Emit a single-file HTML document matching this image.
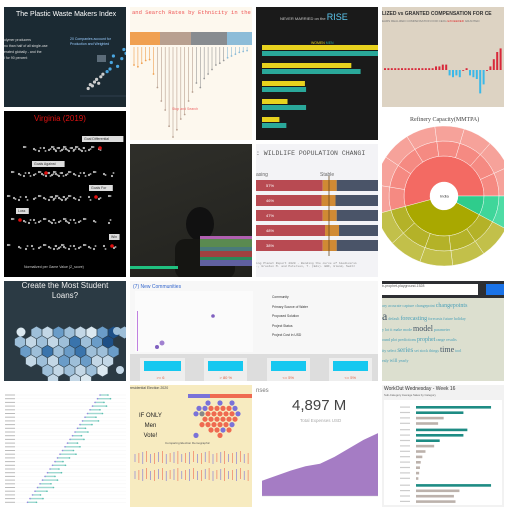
<!DOCTYPE html>
<html><head><meta charset="utf-8"><style>
body{margin:0;width:513px;height:511px;background:#fff;position:relative;overflow:hidden;font-family:"Liberation Sans",sans-serif}
.t{position:absolute;overflow:hidden}
.a{position:absolute}
</style></head><body>
<div class="t" style="left:4px;top:7px;width:122px;height:100px;background:#1b2a33">
 <div class="a" style="left:12px;top:4px;color:#fff;font-size:7px;white-space:nowrap">The Plastic Waste Makers Index</div>
 <div class="a" style="left:0;top:30px;width:56px;color:#ddd;font-size:3.5px;line-height:6px">olymer producers<br>no than half of all single-use<br>erated globally - and the<br>l for 90 percent</div>
 <div class="a" style="left:66px;top:30px;color:#9cf;font-size:3.5px;line-height:5px">20 Companies account for<br>Production and Weighted</div>
 <svg class="a" style="left:0;top:0" width="122" height="100" id="s1"></svg>
</div>
<div class="t" style="left:130px;top:7px;width:122px;height:133px;background:#fdf8ee">
 <div class="a" style="left:2px;top:2px;color:#e55;font-size:5.5px;font-family:'Liberation Mono',monospace;white-space:nowrap">and Search Rates by Ethnicity in the</div>
 <svg class="a" style="left:0;top:0" width="122" height="133" id="s2"></svg>
</div>
<div class="t" style="left:256px;top:7px;width:122px;height:133px;background:#1a1a1a">
 <div class="a" style="left:24px;top:5px;color:#ccc;font-size:4px;white-space:nowrap">NEVER MARRIED on the <span style="color:#5cc8f0;font-size:9px">RISE</span></div>
 <div class="a" style="left:55px;top:34px;font-size:3.5px;color:#e5d21e">WOMEN <span style="color:#2aa89a">MEN</span></div>
 <svg class="a" style="left:0;top:0" width="122" height="133" id="s3"></svg>
</div>
<div class="t" style="left:382px;top:7px;width:122px;height:100px;background:#ddd3c3">
 <div class="a" style="left:0;top:4px;font-size:5px;font-weight:bold;color:#333;white-space:nowrap">LIZED vs GRANTED COMPENSATION FOR CE</div>
 <div class="a" style="left:0;top:12px;font-size:3px;color:#777;white-space:nowrap">EARS REALIZED COMPENSATION FOR CEOs <span style="color:#d33">EXCEEDED</span> GRANTED</div>
 <svg class="a" style="left:0;top:0" width="122" height="100" id="s4"></svg>
</div>
<div class="t" style="left:4px;top:111px;width:122px;height:166px;background:#000">
 <div class="a" style="left:30px;top:3px;color:#d11;font-size:8px">Virginia (2019)</div>
 <div class="a" style="left:20px;top:154px;color:#ccc;font-size:3.5px">Normalized per Game Value (Z_score)</div>
 <svg class="a" style="left:0;top:0" width="122" height="166" id="s5"></svg>
</div>
<div class="t" style="left:130px;top:144px;width:122px;height:133px;background:linear-gradient(160deg,#2f2f2a,#22221e)">
 <svg class="a" style="left:0;top:0" width="122" height="133">
  <ellipse cx="70" cy="80" rx="14" ry="17" fill="#111"/>
  <rect x="45" y="95" width="60" height="40" rx="10" fill="#151512"/>
  <rect x="70" y="92" width="52" height="3" fill="#b060b0"/><rect x="70" y="95" width="52" height="8" fill="#5a8a50"/>
  <rect x="70" y="103" width="52" height="4" fill="#4a7a7a"/><rect x="70" y="107" width="52" height="6" fill="#a04040"/>
  <rect x="70" y="113" width="52" height="3" fill="#2a8a5a"/><rect x="70" y="116" width="52" height="6" fill="#6060a0"/>
  <rect x="0" y="122" width="48" height="3" fill="#20c080"/>
 </svg>
</div>
<div class="t" style="left:256px;top:144px;width:122px;height:133px;background:#f3f3f6">
 <div class="a" style="left:0;top:6px;font-family:'Liberation Mono',monospace;font-size:6.5px;color:#555;white-space:nowrap">: WILDLIFE POPULATION CHANGI</div>
 <div class="a" style="left:0;top:28px;font-size:5px;color:#666">asing</div>
 <div class="a" style="left:64px;top:28px;font-size:5px;color:#666">Stable</div>
 <div class="a" style="left:0;top:118px;font-size:3px;color:#888;font-family:'Liberation Mono',monospace;white-space:nowrap">ing Planet Report 2020 - Bending the curve of biodiversi<br>., Grooten M. and Petersen, T. (Eds). WWF, Gland, Switz</div>
 <svg class="a" style="left:0;top:0" width="122" height="133" id="s7"></svg>
</div>
<div class="t" style="left:382px;top:111px;width:122px;height:166px;background:#fff">
 <div class="a" style="left:28px;top:6px;font-family:'Liberation Serif',serif;font-size:6px;color:#444">Refinery Capacity(MMTPA)</div>
 <svg class="a" style="left:0;top:0" width="122" height="166" id="s8"></svg>
</div>
<div class="t" style="left:4px;top:281px;width:122px;height:100px;background:#2b3a44">
 <div class="a" style="left:0;top:0;width:122px;text-align:center;color:#eee;font-size:8px;line-height:10px">Create the Most Student<br>Loans?</div>
 <svg class="a" style="left:0;top:0" width="122" height="100" id="s9"></svg>
</div>
<div class="t" style="left:130px;top:281px;width:248px;height:100px;background:#f7f7f7">
 <div class="a" style="left:3px;top:3px;font-size:5px;color:#36c">(7) New Communities</div>
 <div class="a" style="left:5px;top:10px;width:118px;height:61px;background:#fbfbfb"></div>
 <div class="a" style="left:142px;top:12px;width:98px;font-size:3.3px;color:#333;line-height:9.5px">Community<br>Primary Source of Water<br>Proposed Solution<br>Project Status<br>Project Cost in USD</div>
 <div class="a" style="left:0;top:73px;width:248px;height:27px;background:#ddd"></div>
 <svg class="a" style="left:0;top:0" width="248" height="100" id="s10"></svg>
</div>
<div class="t" style="left:382px;top:281px;width:122px;height:100px;background:#dcdfcf">
 <div class="a" style="left:0;top:0;width:122px;height:17px;background:#2d2f33"></div>
 <div class="a" style="left:0;top:3px;width:96px;height:11px;background:#fff;font-size:3.5px;color:#555">b-prophet-playground-1528</div>
 <div class="a" style="left:104px;top:3px;width:18px;height:11px;background:#1a73e8"></div>
 <div class="a" style="left:0;top:20px;width:122px;font-family:'Liberation Serif',serif;color:#4aa0b8;font-size:4px;line-height:10px">ary accurate capture changepoint <span style="font-size:6px">changepoints</span><br><span style="font-size:12px;color:#456">a</span> default <span style="font-size:6px">forecasting</span> forecasts future holiday<br>y lot it make mode <span style="font-size:8px;color:#456">model</span> parameter<br>ound plot predictions <span style="font-size:6px">prophet</span> range results<br>ity select <span style="font-size:7px">series</span> set stock things <span style="font-size:8px;color:#456">time</span> tool<br>ealy <span style="font-size:5px">will</span> yearly</div>
</div>
<div class="t" style="left:4px;top:385px;width:122px;height:122px;background:#fff">
 <svg class="a" style="left:0;top:0" width="122" height="122" id="s12"></svg>
</div>
<div class="t" style="left:130px;top:385px;width:122px;height:122px;background:#f7ebc0">
 <div class="a" style="left:0;top:1px;font-size:3.5px;color:#444;white-space:nowrap">residential Election 2020</div>
 <div class="a" style="left:9px;top:26px;font-size:6px;line-height:10px;text-align:center;color:#222">IF ONLY<br>Men<br>Vote!</div>
 <div class="a" style="left:35px;top:56px;font-size:3px;color:#555">Comparing Election Demographic</div>
 <svg class="a" style="left:0;top:0" width="122" height="122" id="s13"></svg>
</div>
<div class="t" style="left:256px;top:385px;width:122px;height:122px;background:#fff">
 <div class="a" style="left:0;top:3px;font-size:6px;color:#777">nses</div>
 <div class="a" style="left:36px;top:12px;font-size:15px;color:#444">4,897 M</div>
 <div class="a" style="left:44px;top:33px;font-size:4.5px;color:#aaa">Total Expenses USD</div>
 <svg class="a" style="left:0;top:0" width="122" height="122" id="s14"></svg>
</div>
<div class="t" style="left:382px;top:385px;width:122px;height:122px;background:#f2f2f2">
 <div class="a" style="left:2px;top:1px;font-size:5px;color:#333;white-space:nowrap">WorkOut Wednesday - Week 16</div>
 <div class="a" style="left:2px;top:8px;font-size:2.8px;color:#666">Sub-Category Average Sales by Category</div>
 <div class="a" style="left:2px;top:15px;width:118px;height:105px;background:#fff"></div>
 <svg class="a" style="left:0;top:0" width="122" height="122" id="s15"></svg>
</div>
<script>
const NS='http://www.w3.org/2000/svg';
function el(svg,tag,at){const e=document.createElementNS(NS,tag);for(const k in at)e.setAttribute(k,at[k]);svg.appendChild(e);return e;}
const marriedWomen=[100,77,37,22,15];
const marriedMen=[100,85,38,38,21];
const plasticX=[10,15,20,25,30,35,40,45,55,62,65,70,80,90,95,100,105,110];
const plasticY=[5,8,7,10,12,9,14,16,18,20,25,30,22,28,35,32,42,45];
const ceoValues=[1,1,1,1,1,1,1,1,1,1,1,1,1,1,1,2,2,3,3,-3,-4,-3,-4,0,1,-3,-4,-5,-13,-8,0,2,6,10,12];
const wildlifeDecline=[57,56,57,59,57];
const workoutVals=[95,60,35,28,65,60,30,23,12,8,6,5,4,3,95,55,48,50];
const expenseVals=[18,24,30,35,38,46,56,66,74];
const lollipop=[20,22,18,15,14,30,45,60,70,88,100,92,80,75,60,50,40,45,35,30,25,20,18,15,12,10,8,6,5,4];

(function(){const s=document.getElementById('s3');const w=116;
marriedWomen.forEach((v,i)=>{const y=38+i*18;
 const a=el(s,'rect',{x:6,y:y,width:v/100*w,height:5,fill:'#e8d21e'});
 const b=el(s,'rect',{x:6,y:y+6,width:marriedMen[i]/100*w,height:5,fill:'#2aa89a'});});})();

(function(){const s=document.getElementById('s1');
el(s,'rect',{x:93,y:48,width:9,height:7,fill:'#5b6b78'});
plasticX.forEach((x,i)=>{const c=el(s,'circle',{cx:80+x*0.42,cy:88-plasticY[i]*1.3,r:1.6,fill:i<8?'#ccc':'#4aa6e0'});});
el(s,'line',{x1:76,y1:89,x2:122,y2:89,stroke:'#456',"stroke-width":0.5});})();

(function(){const s=document.getElementById('s2');
const cols=['#f0a050','#b8a090','#888c90','#8cbcd8'];const xs=[0,30,61,97];const ws=[30,31,36,25];
cols.forEach((c,i)=>el(s,'rect',{x:xs[i],y:25,width:ws[i],height:13,fill:c}));
lollipop.forEach((v,i)=>{const x=4+i*3.9;const c=i<6?'#f0a050':(i<16?'#b8a090':(i<24?'#999':'#8cbcd8'));
 const l=el(s,'line',{x1:x,y1:40,x2:x,y2:40+v*0.9,stroke:c,"stroke-width":0.6});
 el(s,'circle',{cx:x,cy:40+v*0.9,r:0.9,fill:c});});
const t=el(s,'text',{x:42,y:103,"font-size":3.5,fill:'#e66'});t.textContent='Stop and Search';})();

(function(){const s=document.getElementById('s4');const base=63;
ceoValues.forEach((v,i)=>{const x=2+i*3.4;const h=Math.abs(v)*1.8;
 const r=el(s,'rect',{x:x,y:v>=0?base-h:base,width:2,height:Math.max(h,0.8),fill:v>=0?'#d8283a':'#3bb8e8'});});})();

(function(){const s=document.getElementById('s5');const rows=[38,63,87,110,136];
const pts=[[20,30,35,40,45,48,50,52,55,58,60,62,65,68,70,72,75,78,80,85,88,95],[8,15,20,25,30,35,38,42,45,48,50,52,55,58,62,65,70,75,80,85,90,100,108],[4,10,15,22,30,35,40,45,48,50,52,55,58,60,62,65,70,75,85,95,105],[8,20,25,30,35,40,45,48,50,55,60,62,65,70,75,80,90,105],[4,15,22,28,35,40,45,50,52,55,58,60,65,70,75,80,85,90,100,110]];
const red=[96,42,92,16,108];const lbl=['Goal Differential','Goals Against','Goals For','Loss','Win'];const lx=[78,28,85,12,105];
rows.forEach((y,r)=>{pts[r].forEach((x,i)=>{el(s,'circle',{cx:x,cy:y+((i*7)%5-2),r:1.1,fill:'#bbb'});el(s,'circle',{cx:x+1.5,cy:y+((i*3)%5-2),r:1,fill:'#999'});});
 el(s,'circle',{cx:red[r],cy:y-1,r:1.8,fill:'#e01010'});
 el(s,'rect',{x:lx[r],y:y-13,width:lbl[r].length*2.2+4,height:6,fill:'#ddd'});
 const t=el(s,'text',{x:lx[r]+2,y:y-8.8,"font-size":3.5,fill:'#333'});t.textContent=lbl[r];});})();

(function(){const s=document.getElementById('s7');
wildlifeDecline.forEach((v,i)=>{const y=36+i*15;const w=v*1.17;
 el(s,'rect',{x:0,y:y,width:w,height:11,fill:'#b84a52'});
 el(s,'rect',{x:w,y:y,width:14,height:11,fill:'#d08a34'});
 el(s,'rect',{x:w+14,y:y,width:122-w-14,height:11,fill:'#4a5468'});
 const t=el(s,'text',{x:10,y:y+7,"font-size":4,fill:'#fff'});t.textContent=['57%','46%','47%','48%','38%'][i];});
el(s,'line',{x1:73,y1:32,x2:73,y2:112,stroke:'#6b4a20',"stroke-width":0.8});})();

(function(){const s=document.getElementById('s8');const cx=62,cy=85;
function arc(r0,r1,a0,a1,fill){const p=(r,a)=>[cx+r*Math.cos(a*Math.PI/180),cy+r*Math.sin(a*Math.PI/180)];
 const[x0,y0]=p(r1,a0),[x1,y1]=p(r1,a1),[x2,y2]=p(r0,a1),[x3,y3]=p(r0,a0);const lg=(a1-a0)>180?1:0;
 el(s,'path',{d:`M${x0},${y0}A${r1},${r1} 0 ${lg} 1 ${x1},${y1}L${x2},${y2}A${r0},${r0} 0 ${lg} 0 ${x3},${y3}Z`,fill:fill,stroke:'#fff',"stroke-width":0.4});}
const segs=[[165,360,'#f36a63','#f58a82','#f6a29a'],[0,28,'#2fcc8c','#3fd69a','#4fdca5'],[28,165,'#a9a800','#b4b228','#c2c04a']];
segs.forEach(g=>{arc(14,40,g[0],g[1],g[2]);const n=Math.round((g[1]-g[0])/25);for(let i=0;i<n;i++){const a=g[0]+(g[1]-g[0])*i/n,b=g[0]+(g[1]-g[0])*(i+1)/n;arc(40,55,a,b,g[3]);arc(55,70,a,b,g[4]);}});
el(s,'circle',{cx:cx,cy:cy,r:14,fill:'#fff'});
const t=el(s,'text',{x:cx-4,y:cy+1.5,"font-size":4,fill:'#333'});t.textContent='India';})();

(function(){const s=document.getElementById('s9');const shades=['#dbe8f0','#c3d7e6','#9ebfd9','#6a9cc8','#3a74ac','#1d4f86'];
const grid=[[0,0,0,0,0,0,0,0,0,0,0],[1,2,1,3,2,1,0,3,5,2,1],[2,1,2,1,2,4,2,3,5,3,0],[3,2,4,2,3,4,2,2,3,2,0],[5,1,2,1,3,2,3,1,1,0,0],[0,1,2,1,2,1,2,0,0,0,0],[0,0,0,1,4,1,0,2,0,0,0]];
const rows=[[],[1,2,3,4,5,6,7,8,9],[0,1,2,3,4,5,6,7,8],[0,1,2,3,4,5,6,7,8],[1,2,3,4,5,6,7,8],[2,3,4,5,6,7],[3,5,6]];
rows.forEach((r,j)=>r.forEach(i=>{const x=16+i*11+(j%2)*5.5,y=42+j*9.5;
 el(s,'polygon',{points:[[0,-6.2],[5.4,-3.1],[5.4,3.1],[0,6.2],[-5.4,3.1],[-5.4,-3.1]].map(p=>(x+p[0])+','+(y+p[1])).join(' '),fill:shades[grid[j][i]],stroke:'#2b3a44',"stroke-width":0.4});}));
el(s,'circle',{cx:17,cy:51,r:4.5,fill:'#dbe8f0'});el(s,'circle',{cx:113,cy:50,r:4,fill:'#9ebfd9'});el(s,'circle',{cx:116,cy:89,r:4,fill:'#c3d7e6'});})();

(function(){const s=document.getElementById('s10');
el(s,'circle',{cx:83,cy:35,r:1.8,fill:'#8060c0'});el(s,'circle',{cx:32,cy:62,r:2.5,fill:'#a080d0'});el(s,'circle',{cx:27,cy:66,r:2,fill:'#8060c0'});
el(s,'rect',{x:7,y:30,width:1,height:40,fill:'#c080e0'});
[[6,45],[70,43],[133,43],[195,43]].forEach((c,i)=>{el(s,'rect',{x:c[0]+4,y:77,width:c[1],height:26,fill:'#eee'});
 el(s,'rect',{x:c[0]+8,y:80,width:c[1]-8,height:10,fill:'#16c8f0'});
 const t=el(s,'text',{x:c[0]+c[1]/2-2,y:98,"font-size":4,fill:'#e06040'});t.textContent=['>= 6','> 80 %','<= 5%','<= 5%'][i];});})();

(function(){const s=document.getElementById('s12');
for(let i=0;i<30;i++){const y=10+i*3.7;const a=96-i*2.5,b=a+8+((i*5)%9);
 el(s,'line',{x1:10,y1:y,x2:122,y2:y,stroke:'#eee',"stroke-width":0.3});
 el(s,'rect',{x:a,y:y-0.7,width:b-a,height:1.4,fill:'#9fd8d0'});
 el(s,'circle',{cx:a,cy:y,r:0.8,fill:'#9a8ae0'});el(s,'circle',{cx:b,cy:y,r:0.8,fill:'#5cc0b0'});
 el(s,'rect',{x:1,y:y-0.5,width:10,height:1,fill:'#bbb'});}})();

(function(){const s=document.getElementById('s13');
el(s,'rect',{x:58,y:9,width:22,height:4,fill:'#7a72d8'});el(s,'rect',{x:80,y:9,width:42,height:4,fill:'#ef6a50'});
const pattern=['..b.b.b','bbrrrrb','bgrrrrrb','.rrrrrr','.rrrrrb','..rrbr','b...r'];
pattern.forEach((row,j)=>[...row].forEach((c,i)=>{if(c==='.')return;el(s,'circle',{cx:66+i*6+(j%2)*3,cy:18+j*5.4,r:2.6,fill:c==='b'?'#7a72d8':c==='g'?'#888':'#ef6a50'});}));
for(let i=0;i<30;i++){const x=5+i*3.9;[73,90].forEach(y=>{el(s,'line',{x1:x,y1:y-4-(i%4),x2:x,y2:y+4+(i%3),stroke:i%2?'#ef6a50':'#7a72d8',"stroke-width":0.6});});}})();

(function(){const s=document.getElementById('s14');
const pts=expenseVals.map((v,i)=>(6+i*14.5)+','+(111-v*0.85));
const a=el(s,'polygon',{points:'6,111 '+pts.join(' ')+' 122,111',fill:'#a57cc4'});
el(s,'line',{x1:6,y1:111,x2:122,y2:111,stroke:'#ccc',"stroke-width":0.4});})();

(function(){const s=document.getElementById('s15');
workoutVals.forEach((v,i)=>{const y=21+i*5.4+(i>=4?1:0)+(i>=14?1.5:0);const teal=[0,1,4,5,6,14].includes(i);
 const r=el(s,'rect',{x:34,y:y,width:v*0.79,height:2.6,fill:teal?'#1e8c84':'#bcb2ac'});
 el(s,'rect',{x:18,y:y+0.5,width:10,height:1.2,fill:'#ccc'});});})();
</script>
</body></html>
